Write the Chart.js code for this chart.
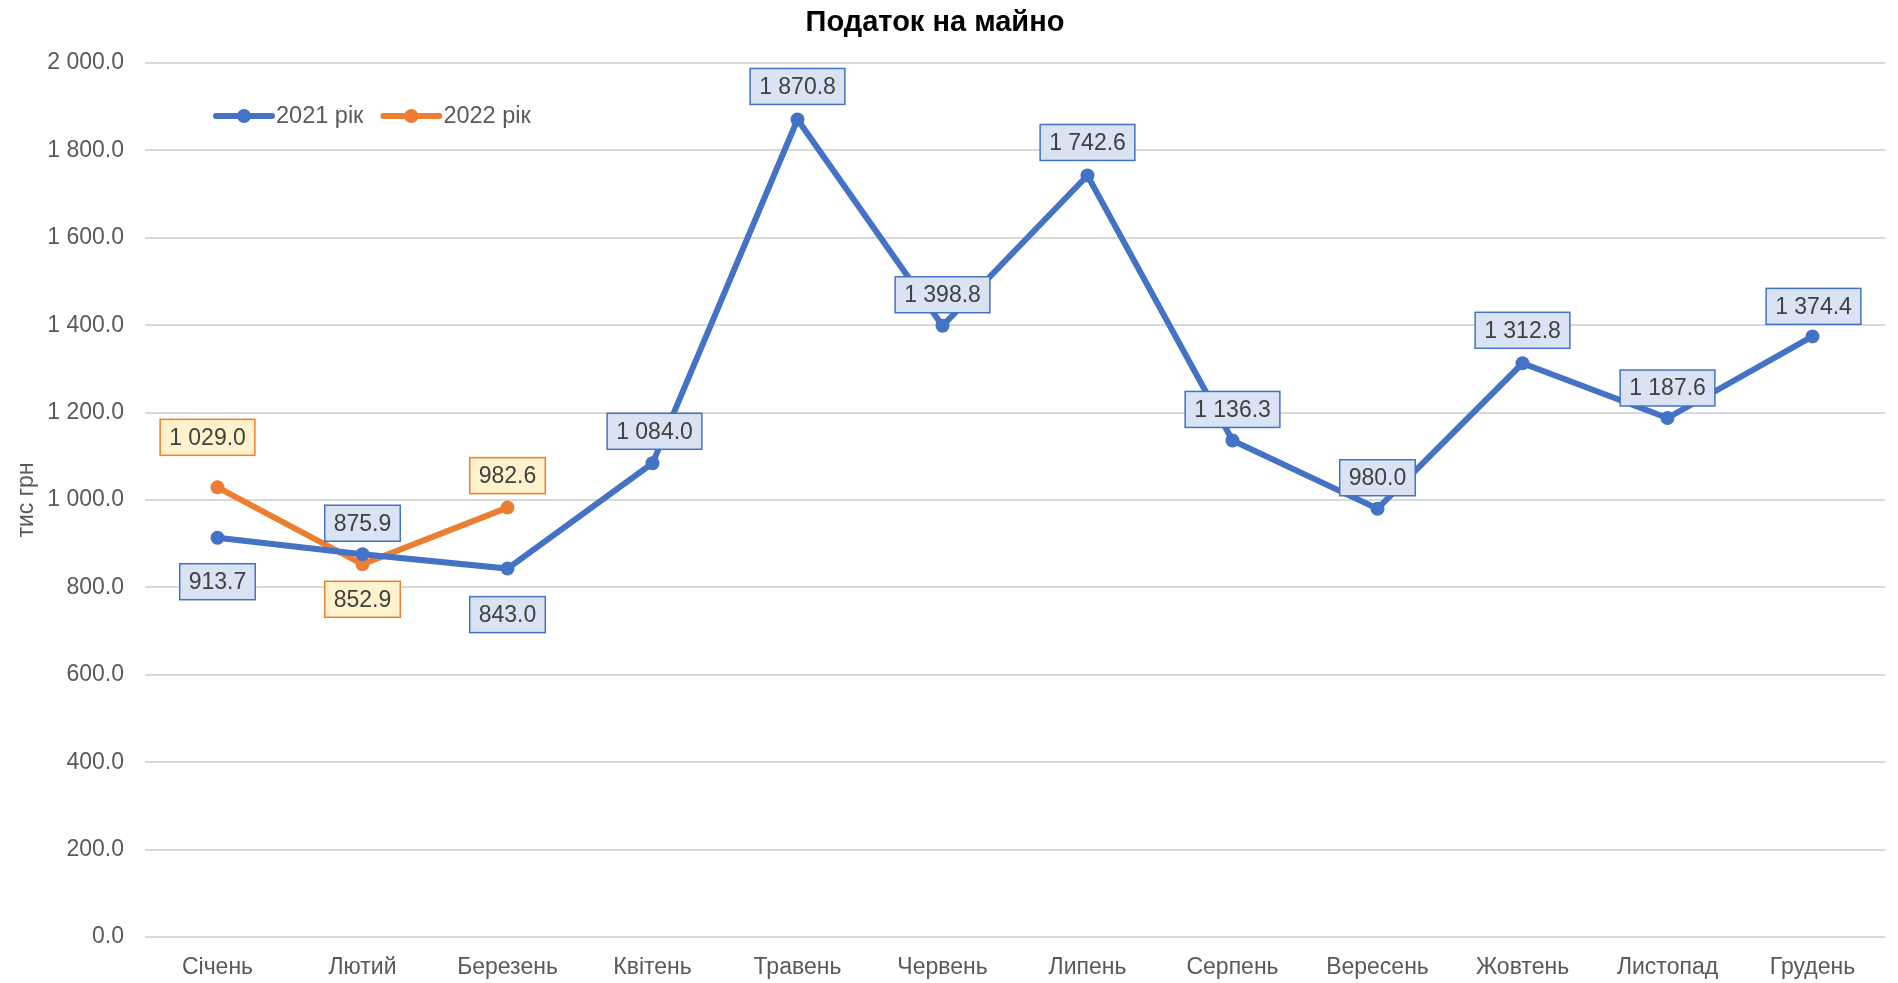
<!DOCTYPE html>
<html>
<head>
<meta charset="utf-8">
<script src="https://cdn.jsdelivr.net/npm/chart.js@4"></script>
<style>
  html, body { margin: 0; padding: 0; background: #fff; }
  #wrap { width: 1898px; height: 983px; }
</style>
</head>
<body>
<div id="wrap"><canvas id="taxChart"></canvas></div>
<script>
const months = ['Січень', 'Лютий', 'Березень', 'Квітень', 'Травень', 'Червень', 'Липень', 'Серпень', 'Вересень', 'Жовтень', 'Листопад', 'Грудень'];
const values2021 = [913.7, 875.9, 843.0, 1084.0, 1870.8, 1398.8, 1742.6, 1136.3, 980.0, 1312.8, 1187.6, 1374.4];
const values2022 = [1029.0, 852.9, 982.6];
const seriesNames = ['2021 рік', '2022 рік'];

const FONT = "'Liberation Sans', Arial, sans-serif";
const blue = '#4472C4';
const orange = '#ED7D31';

// "1 870.8" style
function fmt(v) {
    const s = v.toFixed(1);
    const [i, d] = s.split('.');
    return i.replace(/\B(?=(\d{3})+(?!\d))/g, ' ') + '.' + d;
}

// offset of each label box centre from its point, px (negative = above)
const labelShift = [
    [44, -31, 46, -32, -33, -31, -33, -31, -31, -33, -30, -30],
    [-50, 35, -32]
];
const labelShiftX = [
    [0, 0, 0, 2, 0, 0, 0, 0, 0, 0, 0, 1],
    [-10, 0, 0]
];
const labelFill = ['#DAE3F3', '#FFF2CC'];

const labelPlugin = {
    id: 'boxLabels',
    afterDatasetsDraw(chart) {
        const ctx = chart.ctx;
        ctx.save();
        ctx.font = '23px ' + FONT;
        ctx.textAlign = 'center';
        ctx.textBaseline = 'middle';
        chart.data.datasets.forEach((ds, di) => {
            const meta = chart.getDatasetMeta(di);
            meta.data.forEach((pt, i) => {
                const txt = fmt(ds.data[i]);
                const w = ctx.measureText(txt).width + 18;
                const h = 36;
                const cx = pt.x + labelShiftX[di][i];
                const cy = pt.y + labelShift[di][i];
                ctx.fillStyle = labelFill[di];
                ctx.fillRect(cx - w / 2, cy - h / 2, w, h);
                ctx.strokeStyle = ds.borderColor;
                ctx.lineWidth = 1.5;
                ctx.strokeRect(cx - w / 2, cy - h / 2, w, h);
                ctx.fillStyle = '#404040';
                ctx.fillText(txt, cx, cy + 1);
            });
        });
        ctx.restore();
    },
    afterDraw(chart) {
        const ctx = chart.ctx;
        ctx.save();
        // title
        ctx.font = 'bold 29px ' + FONT;
        ctx.fillStyle = '#000';
        ctx.textAlign = 'center';
        ctx.textBaseline = 'middle';
        ctx.fillText('Податок на майно', 935, 23);
        // legend
        ctx.font = '23.5px ' + FONT;
        ctx.textAlign = 'left';
        let x = 216;
        const y = 116;
        chart.data.datasets.forEach((ds) => {
            ctx.strokeStyle = ds.borderColor;
            ctx.lineWidth = 6;
            ctx.lineCap = 'round';
            ctx.beginPath();
            ctx.moveTo(x, y);
            ctx.lineTo(x + 56, y);
            ctx.stroke();
            ctx.fillStyle = ds.borderColor;
            ctx.beginPath();
            ctx.arc(x + 28, y, 7, 0, Math.PI * 2);
            ctx.fill();
            ctx.fillStyle = '#595959';
            ctx.fillText(ds.label, x + 60, y + 1);
            x += 60 + ctx.measureText(ds.label).width + 20;
        });
        ctx.restore();
    }
};

const ctx = document.getElementById('taxChart');
const myChart = new Chart(ctx, {
    type: 'line',
    data: {
        labels: months,
        datasets: [{
            label: seriesNames[0],
            data: values2021,
            borderColor: blue,
            backgroundColor: blue,
            borderWidth: 6,
            pointRadius: 7,
            pointBorderWidth: 0,
            tension: 0
        }, {
            label: seriesNames[1],
            data: values2022,
            borderColor: orange,
            backgroundColor: orange,
            borderWidth: 6,
            pointRadius: 7,
            pointBorderWidth: 0,
            tension: 0
        }]
    },
    options: {
        responsive: true,
        maintainAspectRatio: false,
        animation: false,
        layout: {
            padding: { top: 63, left: 0, right: 13, bottom: 0 }
        },
        plugins: {
            legend: { display: false },
            title: { display: false },
            tooltip: { enabled: false }
        },
        scales: {
            x: {
                offset: true,
                grid: { display: false, drawTicks: false },
                border: { display: false },
                ticks: {
                    color: '#595959',
                    font: { family: FONT, size: 23 },
                    padding: 17,
                    maxRotation: 0
                },
                afterFit(scale) { scale.height = 46; }
            },
            y: {
                min: 0,
                max: 2000,
                grid: { color: '#D9D9D9', lineWidth: 2, drawTicks: false },
                border: { display: false },
                ticks: {
                    stepSize: 200,
                    color: '#595959',
                    font: { family: FONT, size: 23 },
                    padding: 21,
                    callback: (v) => fmt(v)
                },
                title: {
                    display: true,
                    text: 'тис грн',
                    color: '#595959',
                    font: { family: FONT, size: 23 },
                    padding: { top: 13, bottom: 0 }
                },
                afterFit(scale) { scale.width = 145; }
            }
        }
    },
    plugins: [labelPlugin]
});
</script>
</body>
</html>
